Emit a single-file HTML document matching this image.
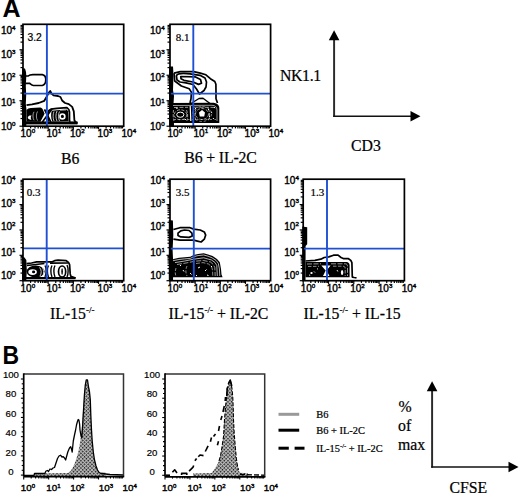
<!DOCTYPE html>
<html><head><meta charset="utf-8"><style>
html,body{margin:0;padding:0;background:#fff;}
svg{display:block;}
text{stroke:#000;stroke-width:0.22px;}
</style></head><body>
<svg width="520" height="494" viewBox="0 0 520 494">
<rect width="520" height="494" fill="#fff"/>
<path d="M22,68.3 L25,68.5 L26,72 L26.3,76 L25.8,86 L26.2,95 L25.8,104 L26.5,110 L26.3,126 L22,126 Z" fill="#000"/>
<path d="M25.5,76 L28.5,75.8 C29.5,74.6 31,74.6 33,74.6 L42.3,74.6 C44.5,75 45.8,77 45.8,79.5 C45.8,82.5 44.5,85 42.3,85.5 L33.4,85.5 C31.5,85.5 30.5,84 29.5,83.3 L25.5,83.3" fill="none" stroke="#000" stroke-width="1.7" stroke-linejoin="round"/>
<path d="M26.5,105.2 L32,104.3 L38.7,103 L44.3,100.8 L46.5,97 L48.8,92.5 L50.2,91 L51.5,93.5 L53.5,95.4 L58,96 L60.5,97 L62.1,100.5 L65,103 L68.8,104.1 L72.2,106.9 L73.8,111.4 L74.4,120.3 L75.5,122 L77.5,123.5" fill="none" stroke="#000" stroke-width="1.8" stroke-linejoin="round"/>
<path d="M26.5,110 C27.5,108.6 29,108 31,107.9 L40.2,107.6 C41.5,108 42.3,108.6 42.8,109.6 L44.6,113.8 L41.6,119.5 L40.3,121.8 L26.5,121.8 Z" fill="#000"/>
<path d="M27.8,117.6 C28,115.6 30,115.2 31.6,115.5 C30.5,117 30.5,118.5 31.5,119.7 C29.5,119.9 28,119.2 27.8,117.6 Z" fill="#fff"/>
<path d="M34,111.8 C32.6,114 32.6,118 34,120.3 M37.5,111.5 C36,114 36,118 37.5,120.6" fill="none" stroke="#fff" stroke-width="0.6"/>
<path d="M44.5,109.4 L50.8,122 M52,109 L42.4,122" fill="none" stroke="#000" stroke-width="1.7" stroke-linejoin="round"/>
<path d="M51.8,110.8 L57,110.2 L66.5,109.6 L68.2,111.2 L68.6,121 L52.3,121.6 C50.8,118 50.8,113.5 51.8,110.8 Z" fill="#000"/>
<path d="M48.6,121.5 C47.6,117 47.6,113 48.6,110.8 L50.9,109.2 L57.1,108.3 L66.9,107.7 L68.8,109.5 L69.5,112 L69.5,120.6 L70.2,121.8" fill="none" stroke="#000" stroke-width="1.7" stroke-linejoin="round"/>
<path d="M54,111.5 C52.8,114 52.8,118.5 54,121 M57,111 C55.6,114 55.6,118.5 57,121.2 M59.5,111.5 C58.2,114 58.2,118.5 59.5,121" fill="none" stroke="#fff" stroke-width="0.75"/>
<circle cx="62.4" cy="116.4" r="2.4" fill="none" stroke="#fff" stroke-width="1.7"/>
<path d="M60,110.3 L66,110" stroke="#fff" stroke-width="0.6"/>
<rect x="25" y="121.4" width="52.5" height="3" fill="#000"/>
<line x1="23" y1="93.6" x2="123.7" y2="93.6" stroke="#1f50d4" stroke-width="1.9"/>
<line x1="46.9" y1="24.3" x2="46.9" y2="126.2" stroke="#1f50d4" stroke-width="1.9"/>
<rect x="23" y="24.3" width="100.7" height="101.9" fill="none" stroke="#000" stroke-width="1.7"/>
<line x1="19.5" y1="126.20" x2="23" y2="126.20" stroke="#000" stroke-width="1.2"/>
<line x1="20.5" y1="118.53" x2="23" y2="118.53" stroke="#000" stroke-width="1.2"/>
<line x1="20.5" y1="114.05" x2="23" y2="114.05" stroke="#000" stroke-width="1.2"/>
<line x1="20.5" y1="110.86" x2="23" y2="110.86" stroke="#000" stroke-width="1.2"/>
<line x1="20.5" y1="108.39" x2="23" y2="108.39" stroke="#000" stroke-width="1.2"/>
<line x1="20.5" y1="106.38" x2="23" y2="106.38" stroke="#000" stroke-width="1.2"/>
<line x1="20.5" y1="104.67" x2="23" y2="104.67" stroke="#000" stroke-width="1.2"/>
<line x1="20.5" y1="103.19" x2="23" y2="103.19" stroke="#000" stroke-width="1.2"/>
<line x1="20.5" y1="101.89" x2="23" y2="101.89" stroke="#000" stroke-width="1.2"/>
<line x1="19.5" y1="100.72" x2="23" y2="100.72" stroke="#000" stroke-width="1.2"/>
<line x1="20.5" y1="93.06" x2="23" y2="93.06" stroke="#000" stroke-width="1.2"/>
<line x1="20.5" y1="88.57" x2="23" y2="88.57" stroke="#000" stroke-width="1.2"/>
<line x1="20.5" y1="85.39" x2="23" y2="85.39" stroke="#000" stroke-width="1.2"/>
<line x1="20.5" y1="82.92" x2="23" y2="82.92" stroke="#000" stroke-width="1.2"/>
<line x1="20.5" y1="80.90" x2="23" y2="80.90" stroke="#000" stroke-width="1.2"/>
<line x1="20.5" y1="79.20" x2="23" y2="79.20" stroke="#000" stroke-width="1.2"/>
<line x1="20.5" y1="77.72" x2="23" y2="77.72" stroke="#000" stroke-width="1.2"/>
<line x1="20.5" y1="76.42" x2="23" y2="76.42" stroke="#000" stroke-width="1.2"/>
<line x1="19.5" y1="75.25" x2="23" y2="75.25" stroke="#000" stroke-width="1.2"/>
<line x1="20.5" y1="67.58" x2="23" y2="67.58" stroke="#000" stroke-width="1.2"/>
<line x1="20.5" y1="63.10" x2="23" y2="63.10" stroke="#000" stroke-width="1.2"/>
<line x1="20.5" y1="59.91" x2="23" y2="59.91" stroke="#000" stroke-width="1.2"/>
<line x1="20.5" y1="57.44" x2="23" y2="57.44" stroke="#000" stroke-width="1.2"/>
<line x1="20.5" y1="55.43" x2="23" y2="55.43" stroke="#000" stroke-width="1.2"/>
<line x1="20.5" y1="53.72" x2="23" y2="53.72" stroke="#000" stroke-width="1.2"/>
<line x1="20.5" y1="52.24" x2="23" y2="52.24" stroke="#000" stroke-width="1.2"/>
<line x1="20.5" y1="50.94" x2="23" y2="50.94" stroke="#000" stroke-width="1.2"/>
<line x1="19.5" y1="49.77" x2="23" y2="49.77" stroke="#000" stroke-width="1.2"/>
<line x1="20.5" y1="42.11" x2="23" y2="42.11" stroke="#000" stroke-width="1.2"/>
<line x1="20.5" y1="37.62" x2="23" y2="37.62" stroke="#000" stroke-width="1.2"/>
<line x1="20.5" y1="34.44" x2="23" y2="34.44" stroke="#000" stroke-width="1.2"/>
<line x1="20.5" y1="31.97" x2="23" y2="31.97" stroke="#000" stroke-width="1.2"/>
<line x1="20.5" y1="29.95" x2="23" y2="29.95" stroke="#000" stroke-width="1.2"/>
<line x1="20.5" y1="28.25" x2="23" y2="28.25" stroke="#000" stroke-width="1.2"/>
<line x1="20.5" y1="26.77" x2="23" y2="26.77" stroke="#000" stroke-width="1.2"/>
<line x1="20.5" y1="25.47" x2="23" y2="25.47" stroke="#000" stroke-width="1.2"/>
<line x1="23.00" y1="126.2" x2="23.00" y2="129.4" stroke="#000" stroke-width="1.2"/>
<line x1="30.58" y1="126.2" x2="30.58" y2="128.4" stroke="#000" stroke-width="1.2"/>
<line x1="35.01" y1="126.2" x2="35.01" y2="128.4" stroke="#000" stroke-width="1.2"/>
<line x1="38.16" y1="126.2" x2="38.16" y2="128.4" stroke="#000" stroke-width="1.2"/>
<line x1="40.60" y1="126.2" x2="40.60" y2="128.4" stroke="#000" stroke-width="1.2"/>
<line x1="42.59" y1="126.2" x2="42.59" y2="128.4" stroke="#000" stroke-width="1.2"/>
<line x1="44.28" y1="126.2" x2="44.28" y2="128.4" stroke="#000" stroke-width="1.2"/>
<line x1="45.74" y1="126.2" x2="45.74" y2="128.4" stroke="#000" stroke-width="1.2"/>
<line x1="47.02" y1="126.2" x2="47.02" y2="128.4" stroke="#000" stroke-width="1.2"/>
<line x1="48.17" y1="126.2" x2="48.17" y2="129.4" stroke="#000" stroke-width="1.2"/>
<line x1="55.75" y1="126.2" x2="55.75" y2="128.4" stroke="#000" stroke-width="1.2"/>
<line x1="60.19" y1="126.2" x2="60.19" y2="128.4" stroke="#000" stroke-width="1.2"/>
<line x1="63.33" y1="126.2" x2="63.33" y2="128.4" stroke="#000" stroke-width="1.2"/>
<line x1="65.77" y1="126.2" x2="65.77" y2="128.4" stroke="#000" stroke-width="1.2"/>
<line x1="67.76" y1="126.2" x2="67.76" y2="128.4" stroke="#000" stroke-width="1.2"/>
<line x1="69.45" y1="126.2" x2="69.45" y2="128.4" stroke="#000" stroke-width="1.2"/>
<line x1="70.91" y1="126.2" x2="70.91" y2="128.4" stroke="#000" stroke-width="1.2"/>
<line x1="72.20" y1="126.2" x2="72.20" y2="128.4" stroke="#000" stroke-width="1.2"/>
<line x1="73.35" y1="126.2" x2="73.35" y2="129.4" stroke="#000" stroke-width="1.2"/>
<line x1="80.93" y1="126.2" x2="80.93" y2="128.4" stroke="#000" stroke-width="1.2"/>
<line x1="85.36" y1="126.2" x2="85.36" y2="128.4" stroke="#000" stroke-width="1.2"/>
<line x1="88.51" y1="126.2" x2="88.51" y2="128.4" stroke="#000" stroke-width="1.2"/>
<line x1="90.95" y1="126.2" x2="90.95" y2="128.4" stroke="#000" stroke-width="1.2"/>
<line x1="92.94" y1="126.2" x2="92.94" y2="128.4" stroke="#000" stroke-width="1.2"/>
<line x1="94.63" y1="126.2" x2="94.63" y2="128.4" stroke="#000" stroke-width="1.2"/>
<line x1="96.09" y1="126.2" x2="96.09" y2="128.4" stroke="#000" stroke-width="1.2"/>
<line x1="97.37" y1="126.2" x2="97.37" y2="128.4" stroke="#000" stroke-width="1.2"/>
<line x1="98.53" y1="126.2" x2="98.53" y2="129.4" stroke="#000" stroke-width="1.2"/>
<line x1="106.10" y1="126.2" x2="106.10" y2="128.4" stroke="#000" stroke-width="1.2"/>
<line x1="110.54" y1="126.2" x2="110.54" y2="128.4" stroke="#000" stroke-width="1.2"/>
<line x1="113.68" y1="126.2" x2="113.68" y2="128.4" stroke="#000" stroke-width="1.2"/>
<line x1="116.12" y1="126.2" x2="116.12" y2="128.4" stroke="#000" stroke-width="1.2"/>
<line x1="118.11" y1="126.2" x2="118.11" y2="128.4" stroke="#000" stroke-width="1.2"/>
<line x1="119.80" y1="126.2" x2="119.80" y2="128.4" stroke="#000" stroke-width="1.2"/>
<line x1="121.26" y1="126.2" x2="121.26" y2="128.4" stroke="#000" stroke-width="1.2"/>
<line x1="122.55" y1="126.2" x2="122.55" y2="128.4" stroke="#000" stroke-width="1.2"/>
<text x="0.9" y="33.9" font-family="Liberation Sans, sans-serif" font-size="10" text-anchor="start" style="stroke-width:0.4px">10<tspan font-size="6.20" dy="-3.80">4</tspan></text>
<text x="0.9" y="57.5" font-family="Liberation Sans, sans-serif" font-size="10" text-anchor="start" style="stroke-width:0.4px">10<tspan font-size="6.20" dy="-3.80">3</tspan></text>
<text x="0.9" y="81.0" font-family="Liberation Sans, sans-serif" font-size="10" text-anchor="start" style="stroke-width:0.4px">10<tspan font-size="6.20" dy="-3.80">2</tspan></text>
<text x="0.9" y="106.39999999999999" font-family="Liberation Sans, sans-serif" font-size="10" text-anchor="start" style="stroke-width:0.4px">10<tspan font-size="6.20" dy="-3.80">1</tspan></text>
<text x="0.9" y="129.7" font-family="Liberation Sans, sans-serif" font-size="10" text-anchor="start" style="stroke-width:0.4px">10<tspan font-size="6.20" dy="-3.80">0</tspan></text>
<text x="20.5" y="137.0" font-family="Liberation Sans, sans-serif" font-size="10" text-anchor="start" style="stroke-width:0.4px">10<tspan font-size="6.20" dy="-3.80">0</tspan></text>
<text x="46.5" y="137.0" font-family="Liberation Sans, sans-serif" font-size="10" text-anchor="start" style="stroke-width:0.4px">10<tspan font-size="6.20" dy="-3.80">1</tspan></text>
<text x="70" y="137.0" font-family="Liberation Sans, sans-serif" font-size="10" text-anchor="start" style="stroke-width:0.4px">10<tspan font-size="6.20" dy="-3.80">2</tspan></text>
<text x="97.6" y="137.0" font-family="Liberation Sans, sans-serif" font-size="10" text-anchor="start" style="stroke-width:0.4px">10<tspan font-size="6.20" dy="-3.80">3</tspan></text>
<text x="121.5" y="137.0" font-family="Liberation Sans, sans-serif" font-size="10" text-anchor="start" style="stroke-width:0.4px">10<tspan font-size="6.20" dy="-3.80">4</tspan></text>
<text x="27.5" y="40.8" font-family="Liberation Sans, sans-serif" font-size="10.3">3.2</text>
<path d="M169,66.5 L173,66.5 L173.5,75 L173,90 L174,96 L173.5,104 L174,126 L169,126 Z" fill="#000"/>
<path d="M174.1,73.1 L180.3,71.6 L193.6,71.6 L200.3,73.1 L205.9,74.8 L210.4,78.7 L214.8,81.5 L215.9,84.3 L216,92 L216,98.8 L217.5,103" fill="none" stroke="#000" stroke-width="1.7" stroke-linejoin="round"/>
<path d="M174.1,73.1 L174.7,81 L181.4,86 L189.2,88.8 L191.4,92.1 L191,98.8 L190,103" fill="none" stroke="#000" stroke-width="1.7" stroke-linejoin="round"/>
<path d="M176.4,76 C177,73.5 183,73 190,73.8 L200,75.3 L205,78 L206.5,82 L206,87 L204,90.5 L199.5,94 L196.5,89 L193,84.5 L186,82.8 L180,82 L177,80 Z" fill="none" stroke="#000" stroke-width="1.7" stroke-linejoin="round"/>
<path d="M180.8,76.5 L195,76.8 L200.5,79.5 L201.5,83.3 L198.5,84.4 L193,82 L184,80.3 L181,78.8 Z" fill="none" stroke="#000" stroke-width="1.7" stroke-linejoin="round"/>
<path d="M191,103.5 L199,98.5 L203,98.2 L210,103.5" fill="none" stroke="#000" stroke-width="1.4" stroke-linejoin="round"/>
<path d="M170,103 L212,102.8 C216,102.8 219.3,104.5 219.3,108 L219.3,123 L170,123 Z" fill="#000"/>
<ellipse cx="180.3" cy="114.7" rx="3.6" ry="2.6" fill="none" stroke="#fff" stroke-width="1"/>
<ellipse cx="180.5" cy="114.8" rx="6.3" ry="5" fill="none" stroke="#fff" stroke-width="0.6" stroke-dasharray="3 1.5"/>
<ellipse cx="202" cy="114" rx="6.5" ry="5.5" fill="none" stroke="#fff" stroke-width="0.6" stroke-dasharray="3 1.5"/>
<ellipse cx="202" cy="114" rx="9.5" ry="7.5" fill="none" stroke="#fff" stroke-width="0.5" stroke-dasharray="2.5 2"/>
<path d="M174,119.5 L216,119.5" stroke="#fff" stroke-width="0.5" stroke-dasharray="2 2.5"/>
<path d="M174,107.5 L188,107.3 M194,107.2 L214,107.4" stroke="#fff" stroke-width="0.6" stroke-dasharray="4 1.5"/>
<path d="M173.5,110 C173,113 173,118 174,121 M186.5,110 C188,113 188,118 186.8,121 M196,109 C194.5,112 194.5,117 196,120.5 M208.5,109 C210,112 210,117 208.5,120.5" fill="none" stroke="#fff" stroke-width="0.6" stroke-dasharray="3 1.2"/>
<path d="M199,112.5 L202,110 L205,112.5 L204.2,116.6 L199.8,116.6 Z" fill="#fff"/>
<path d="M190.2,106 L190.8,121" stroke="#fff" stroke-width="1.2"/>
<path d="M208,109 l1,1 M211,112 l1.2,0.8 M209,116 l1,1 M213,118 l0.8,1 M176,108 l1.5,0.5 M185,119 l1,1 M195,108 l1,1 M214,107 l1,1.2" stroke="#fff" stroke-width="1"/>
<path d="M173,105.5 L212,105.3 C215,105.3 217,107 217,110 L217,121" fill="none" stroke="#fff" stroke-width="0.6"/>
<line x1="170" y1="93.6" x2="270.6" y2="93.6" stroke="#1f50d4" stroke-width="1.9"/>
<line x1="193.3" y1="24.3" x2="193.3" y2="126.2" stroke="#1f50d4" stroke-width="1.9"/>
<rect x="170" y="24.3" width="100.60000000000002" height="101.9" fill="none" stroke="#000" stroke-width="1.7"/>
<line x1="166.5" y1="126.20" x2="170" y2="126.20" stroke="#000" stroke-width="1.2"/>
<line x1="167.5" y1="118.53" x2="170" y2="118.53" stroke="#000" stroke-width="1.2"/>
<line x1="167.5" y1="114.05" x2="170" y2="114.05" stroke="#000" stroke-width="1.2"/>
<line x1="167.5" y1="110.86" x2="170" y2="110.86" stroke="#000" stroke-width="1.2"/>
<line x1="167.5" y1="108.39" x2="170" y2="108.39" stroke="#000" stroke-width="1.2"/>
<line x1="167.5" y1="106.38" x2="170" y2="106.38" stroke="#000" stroke-width="1.2"/>
<line x1="167.5" y1="104.67" x2="170" y2="104.67" stroke="#000" stroke-width="1.2"/>
<line x1="167.5" y1="103.19" x2="170" y2="103.19" stroke="#000" stroke-width="1.2"/>
<line x1="167.5" y1="101.89" x2="170" y2="101.89" stroke="#000" stroke-width="1.2"/>
<line x1="166.5" y1="100.72" x2="170" y2="100.72" stroke="#000" stroke-width="1.2"/>
<line x1="167.5" y1="93.06" x2="170" y2="93.06" stroke="#000" stroke-width="1.2"/>
<line x1="167.5" y1="88.57" x2="170" y2="88.57" stroke="#000" stroke-width="1.2"/>
<line x1="167.5" y1="85.39" x2="170" y2="85.39" stroke="#000" stroke-width="1.2"/>
<line x1="167.5" y1="82.92" x2="170" y2="82.92" stroke="#000" stroke-width="1.2"/>
<line x1="167.5" y1="80.90" x2="170" y2="80.90" stroke="#000" stroke-width="1.2"/>
<line x1="167.5" y1="79.20" x2="170" y2="79.20" stroke="#000" stroke-width="1.2"/>
<line x1="167.5" y1="77.72" x2="170" y2="77.72" stroke="#000" stroke-width="1.2"/>
<line x1="167.5" y1="76.42" x2="170" y2="76.42" stroke="#000" stroke-width="1.2"/>
<line x1="166.5" y1="75.25" x2="170" y2="75.25" stroke="#000" stroke-width="1.2"/>
<line x1="167.5" y1="67.58" x2="170" y2="67.58" stroke="#000" stroke-width="1.2"/>
<line x1="167.5" y1="63.10" x2="170" y2="63.10" stroke="#000" stroke-width="1.2"/>
<line x1="167.5" y1="59.91" x2="170" y2="59.91" stroke="#000" stroke-width="1.2"/>
<line x1="167.5" y1="57.44" x2="170" y2="57.44" stroke="#000" stroke-width="1.2"/>
<line x1="167.5" y1="55.43" x2="170" y2="55.43" stroke="#000" stroke-width="1.2"/>
<line x1="167.5" y1="53.72" x2="170" y2="53.72" stroke="#000" stroke-width="1.2"/>
<line x1="167.5" y1="52.24" x2="170" y2="52.24" stroke="#000" stroke-width="1.2"/>
<line x1="167.5" y1="50.94" x2="170" y2="50.94" stroke="#000" stroke-width="1.2"/>
<line x1="166.5" y1="49.77" x2="170" y2="49.77" stroke="#000" stroke-width="1.2"/>
<line x1="167.5" y1="42.11" x2="170" y2="42.11" stroke="#000" stroke-width="1.2"/>
<line x1="167.5" y1="37.62" x2="170" y2="37.62" stroke="#000" stroke-width="1.2"/>
<line x1="167.5" y1="34.44" x2="170" y2="34.44" stroke="#000" stroke-width="1.2"/>
<line x1="167.5" y1="31.97" x2="170" y2="31.97" stroke="#000" stroke-width="1.2"/>
<line x1="167.5" y1="29.95" x2="170" y2="29.95" stroke="#000" stroke-width="1.2"/>
<line x1="167.5" y1="28.25" x2="170" y2="28.25" stroke="#000" stroke-width="1.2"/>
<line x1="167.5" y1="26.77" x2="170" y2="26.77" stroke="#000" stroke-width="1.2"/>
<line x1="167.5" y1="25.47" x2="170" y2="25.47" stroke="#000" stroke-width="1.2"/>
<line x1="170.00" y1="126.2" x2="170.00" y2="129.4" stroke="#000" stroke-width="1.2"/>
<line x1="177.57" y1="126.2" x2="177.57" y2="128.4" stroke="#000" stroke-width="1.2"/>
<line x1="182.00" y1="126.2" x2="182.00" y2="128.4" stroke="#000" stroke-width="1.2"/>
<line x1="185.14" y1="126.2" x2="185.14" y2="128.4" stroke="#000" stroke-width="1.2"/>
<line x1="187.58" y1="126.2" x2="187.58" y2="128.4" stroke="#000" stroke-width="1.2"/>
<line x1="189.57" y1="126.2" x2="189.57" y2="128.4" stroke="#000" stroke-width="1.2"/>
<line x1="191.25" y1="126.2" x2="191.25" y2="128.4" stroke="#000" stroke-width="1.2"/>
<line x1="192.71" y1="126.2" x2="192.71" y2="128.4" stroke="#000" stroke-width="1.2"/>
<line x1="194.00" y1="126.2" x2="194.00" y2="128.4" stroke="#000" stroke-width="1.2"/>
<line x1="195.15" y1="126.2" x2="195.15" y2="129.4" stroke="#000" stroke-width="1.2"/>
<line x1="202.72" y1="126.2" x2="202.72" y2="128.4" stroke="#000" stroke-width="1.2"/>
<line x1="207.15" y1="126.2" x2="207.15" y2="128.4" stroke="#000" stroke-width="1.2"/>
<line x1="210.29" y1="126.2" x2="210.29" y2="128.4" stroke="#000" stroke-width="1.2"/>
<line x1="212.73" y1="126.2" x2="212.73" y2="128.4" stroke="#000" stroke-width="1.2"/>
<line x1="214.72" y1="126.2" x2="214.72" y2="128.4" stroke="#000" stroke-width="1.2"/>
<line x1="216.40" y1="126.2" x2="216.40" y2="128.4" stroke="#000" stroke-width="1.2"/>
<line x1="217.86" y1="126.2" x2="217.86" y2="128.4" stroke="#000" stroke-width="1.2"/>
<line x1="219.15" y1="126.2" x2="219.15" y2="128.4" stroke="#000" stroke-width="1.2"/>
<line x1="220.30" y1="126.2" x2="220.30" y2="129.4" stroke="#000" stroke-width="1.2"/>
<line x1="227.87" y1="126.2" x2="227.87" y2="128.4" stroke="#000" stroke-width="1.2"/>
<line x1="232.30" y1="126.2" x2="232.30" y2="128.4" stroke="#000" stroke-width="1.2"/>
<line x1="235.44" y1="126.2" x2="235.44" y2="128.4" stroke="#000" stroke-width="1.2"/>
<line x1="237.88" y1="126.2" x2="237.88" y2="128.4" stroke="#000" stroke-width="1.2"/>
<line x1="239.87" y1="126.2" x2="239.87" y2="128.4" stroke="#000" stroke-width="1.2"/>
<line x1="241.55" y1="126.2" x2="241.55" y2="128.4" stroke="#000" stroke-width="1.2"/>
<line x1="243.01" y1="126.2" x2="243.01" y2="128.4" stroke="#000" stroke-width="1.2"/>
<line x1="244.30" y1="126.2" x2="244.30" y2="128.4" stroke="#000" stroke-width="1.2"/>
<line x1="245.45" y1="126.2" x2="245.45" y2="129.4" stroke="#000" stroke-width="1.2"/>
<line x1="253.02" y1="126.2" x2="253.02" y2="128.4" stroke="#000" stroke-width="1.2"/>
<line x1="257.45" y1="126.2" x2="257.45" y2="128.4" stroke="#000" stroke-width="1.2"/>
<line x1="260.59" y1="126.2" x2="260.59" y2="128.4" stroke="#000" stroke-width="1.2"/>
<line x1="263.03" y1="126.2" x2="263.03" y2="128.4" stroke="#000" stroke-width="1.2"/>
<line x1="265.02" y1="126.2" x2="265.02" y2="128.4" stroke="#000" stroke-width="1.2"/>
<line x1="266.70" y1="126.2" x2="266.70" y2="128.4" stroke="#000" stroke-width="1.2"/>
<line x1="268.16" y1="126.2" x2="268.16" y2="128.4" stroke="#000" stroke-width="1.2"/>
<line x1="269.45" y1="126.2" x2="269.45" y2="128.4" stroke="#000" stroke-width="1.2"/>
<text x="150" y="33.9" font-family="Liberation Sans, sans-serif" font-size="10" text-anchor="start" style="stroke-width:0.4px">10<tspan font-size="6.20" dy="-3.80">4</tspan></text>
<text x="150" y="57.5" font-family="Liberation Sans, sans-serif" font-size="10" text-anchor="start" style="stroke-width:0.4px">10<tspan font-size="6.20" dy="-3.80">3</tspan></text>
<text x="150" y="81.0" font-family="Liberation Sans, sans-serif" font-size="10" text-anchor="start" style="stroke-width:0.4px">10<tspan font-size="6.20" dy="-3.80">2</tspan></text>
<text x="150" y="106.39999999999999" font-family="Liberation Sans, sans-serif" font-size="10" text-anchor="start" style="stroke-width:0.4px">10<tspan font-size="6.20" dy="-3.80">1</tspan></text>
<text x="150" y="129.7" font-family="Liberation Sans, sans-serif" font-size="10" text-anchor="start" style="stroke-width:0.4px">10<tspan font-size="6.20" dy="-3.80">0</tspan></text>
<text x="167.5" y="137.0" font-family="Liberation Sans, sans-serif" font-size="10" text-anchor="start" style="stroke-width:0.4px">10<tspan font-size="6.20" dy="-3.80">0</tspan></text>
<text x="193.5" y="137.0" font-family="Liberation Sans, sans-serif" font-size="10" text-anchor="start" style="stroke-width:0.4px">10<tspan font-size="6.20" dy="-3.80">1</tspan></text>
<text x="217" y="137.0" font-family="Liberation Sans, sans-serif" font-size="10" text-anchor="start" style="stroke-width:0.4px">10<tspan font-size="6.20" dy="-3.80">2</tspan></text>
<text x="244.6" y="137.0" font-family="Liberation Sans, sans-serif" font-size="10" text-anchor="start" style="stroke-width:0.4px">10<tspan font-size="6.20" dy="-3.80">3</tspan></text>
<text x="268.5" y="137.0" font-family="Liberation Sans, sans-serif" font-size="10" text-anchor="start" style="stroke-width:0.4px">10<tspan font-size="6.20" dy="-3.80">4</tspan></text>
<text x="175.8" y="40.8" font-family="Liberation Serif, serif" font-size="11">8.1</text>
<path d="M22,256.5 L24.5,257.5 L26.3,260 L26.8,270 L26.3,280.7 L22,280.7 Z" fill="#000"/>
<path d="M26.5,263.6 L31.5,263 L36.7,261.8 L52.3,261.8 L54.6,260.7 L58,260.1 L66.2,260.7 L68.5,262.4 L69.6,264.7 L70.2,273.9 L70.8,276.2 L75.6,278" fill="none" stroke="#000" stroke-width="1.7" stroke-linejoin="round"/>
<path d="M27,265.5 L44.5,263.5 M50,263.2 L68,263" fill="none" stroke="#000" stroke-width="1.7" stroke-linejoin="round"/>
<ellipse cx="35.6" cy="271.6" rx="9" ry="6" fill="#000"/>
<ellipse cx="32.6" cy="272.1" rx="4.3" ry="2.8" fill="#fff"/>
<ellipse cx="33.6" cy="271.9" rx="1.6" ry="1.4" fill="#000"/>
<path d="M39.5,267.5 C41.5,269 41.8,274 40,276 M42,267 C44,269 44.2,274 42.5,276.5" fill="none" stroke="#fff" stroke-width="0.8"/>
<ellipse cx="62.1" cy="271.6" rx="3.6" ry="5.6" fill="none" stroke="#000" stroke-width="1.7" stroke-linejoin="round"/>
<ellipse cx="62.1" cy="271.6" rx="0.8" ry="3.3" fill="#000"/>
<path d="M52,265.5 C50.5,268 50.5,274 52,277 M55,265.5 C53.5,268 53.5,274 55,277 M67,265 C68.5,268 68.5,274 67,277" fill="none" stroke="#000" stroke-width="1.4" stroke-linejoin="round"/>
<path d="M45,265.5 C46.5,268 46.5,274 45,277 M48.5,265.5 C47,268 47,274 48.5,277" fill="none" stroke="#000" stroke-width="1.4" stroke-linejoin="round"/>
<rect x="24" y="277" width="51.5" height="2.2" fill="#000"/>
<line x1="23" y1="248.4" x2="123.7" y2="248.4" stroke="#1f50d4" stroke-width="1.9"/>
<line x1="46.7" y1="179.2" x2="46.7" y2="280.7" stroke="#1f50d4" stroke-width="1.9"/>
<rect x="23" y="179.2" width="100.7" height="101.5" fill="none" stroke="#000" stroke-width="1.7"/>
<line x1="19.5" y1="280.70" x2="23" y2="280.70" stroke="#000" stroke-width="1.2"/>
<line x1="20.5" y1="273.06" x2="23" y2="273.06" stroke="#000" stroke-width="1.2"/>
<line x1="20.5" y1="268.59" x2="23" y2="268.59" stroke="#000" stroke-width="1.2"/>
<line x1="20.5" y1="265.42" x2="23" y2="265.42" stroke="#000" stroke-width="1.2"/>
<line x1="20.5" y1="262.96" x2="23" y2="262.96" stroke="#000" stroke-width="1.2"/>
<line x1="20.5" y1="260.95" x2="23" y2="260.95" stroke="#000" stroke-width="1.2"/>
<line x1="20.5" y1="259.26" x2="23" y2="259.26" stroke="#000" stroke-width="1.2"/>
<line x1="20.5" y1="257.78" x2="23" y2="257.78" stroke="#000" stroke-width="1.2"/>
<line x1="20.5" y1="256.49" x2="23" y2="256.49" stroke="#000" stroke-width="1.2"/>
<line x1="19.5" y1="255.32" x2="23" y2="255.32" stroke="#000" stroke-width="1.2"/>
<line x1="20.5" y1="247.69" x2="23" y2="247.69" stroke="#000" stroke-width="1.2"/>
<line x1="20.5" y1="243.22" x2="23" y2="243.22" stroke="#000" stroke-width="1.2"/>
<line x1="20.5" y1="240.05" x2="23" y2="240.05" stroke="#000" stroke-width="1.2"/>
<line x1="20.5" y1="237.59" x2="23" y2="237.59" stroke="#000" stroke-width="1.2"/>
<line x1="20.5" y1="235.58" x2="23" y2="235.58" stroke="#000" stroke-width="1.2"/>
<line x1="20.5" y1="233.88" x2="23" y2="233.88" stroke="#000" stroke-width="1.2"/>
<line x1="20.5" y1="232.41" x2="23" y2="232.41" stroke="#000" stroke-width="1.2"/>
<line x1="20.5" y1="231.11" x2="23" y2="231.11" stroke="#000" stroke-width="1.2"/>
<line x1="19.5" y1="229.95" x2="23" y2="229.95" stroke="#000" stroke-width="1.2"/>
<line x1="20.5" y1="222.31" x2="23" y2="222.31" stroke="#000" stroke-width="1.2"/>
<line x1="20.5" y1="217.84" x2="23" y2="217.84" stroke="#000" stroke-width="1.2"/>
<line x1="20.5" y1="214.67" x2="23" y2="214.67" stroke="#000" stroke-width="1.2"/>
<line x1="20.5" y1="212.21" x2="23" y2="212.21" stroke="#000" stroke-width="1.2"/>
<line x1="20.5" y1="210.20" x2="23" y2="210.20" stroke="#000" stroke-width="1.2"/>
<line x1="20.5" y1="208.51" x2="23" y2="208.51" stroke="#000" stroke-width="1.2"/>
<line x1="20.5" y1="207.03" x2="23" y2="207.03" stroke="#000" stroke-width="1.2"/>
<line x1="20.5" y1="205.74" x2="23" y2="205.74" stroke="#000" stroke-width="1.2"/>
<line x1="19.5" y1="204.57" x2="23" y2="204.57" stroke="#000" stroke-width="1.2"/>
<line x1="20.5" y1="196.94" x2="23" y2="196.94" stroke="#000" stroke-width="1.2"/>
<line x1="20.5" y1="192.47" x2="23" y2="192.47" stroke="#000" stroke-width="1.2"/>
<line x1="20.5" y1="189.30" x2="23" y2="189.30" stroke="#000" stroke-width="1.2"/>
<line x1="20.5" y1="186.84" x2="23" y2="186.84" stroke="#000" stroke-width="1.2"/>
<line x1="20.5" y1="184.83" x2="23" y2="184.83" stroke="#000" stroke-width="1.2"/>
<line x1="20.5" y1="183.13" x2="23" y2="183.13" stroke="#000" stroke-width="1.2"/>
<line x1="20.5" y1="181.66" x2="23" y2="181.66" stroke="#000" stroke-width="1.2"/>
<line x1="20.5" y1="180.36" x2="23" y2="180.36" stroke="#000" stroke-width="1.2"/>
<line x1="23.00" y1="280.7" x2="23.00" y2="283.9" stroke="#000" stroke-width="1.2"/>
<line x1="30.58" y1="280.7" x2="30.58" y2="282.9" stroke="#000" stroke-width="1.2"/>
<line x1="35.01" y1="280.7" x2="35.01" y2="282.9" stroke="#000" stroke-width="1.2"/>
<line x1="38.16" y1="280.7" x2="38.16" y2="282.9" stroke="#000" stroke-width="1.2"/>
<line x1="40.60" y1="280.7" x2="40.60" y2="282.9" stroke="#000" stroke-width="1.2"/>
<line x1="42.59" y1="280.7" x2="42.59" y2="282.9" stroke="#000" stroke-width="1.2"/>
<line x1="44.28" y1="280.7" x2="44.28" y2="282.9" stroke="#000" stroke-width="1.2"/>
<line x1="45.74" y1="280.7" x2="45.74" y2="282.9" stroke="#000" stroke-width="1.2"/>
<line x1="47.02" y1="280.7" x2="47.02" y2="282.9" stroke="#000" stroke-width="1.2"/>
<line x1="48.17" y1="280.7" x2="48.17" y2="283.9" stroke="#000" stroke-width="1.2"/>
<line x1="55.75" y1="280.7" x2="55.75" y2="282.9" stroke="#000" stroke-width="1.2"/>
<line x1="60.19" y1="280.7" x2="60.19" y2="282.9" stroke="#000" stroke-width="1.2"/>
<line x1="63.33" y1="280.7" x2="63.33" y2="282.9" stroke="#000" stroke-width="1.2"/>
<line x1="65.77" y1="280.7" x2="65.77" y2="282.9" stroke="#000" stroke-width="1.2"/>
<line x1="67.76" y1="280.7" x2="67.76" y2="282.9" stroke="#000" stroke-width="1.2"/>
<line x1="69.45" y1="280.7" x2="69.45" y2="282.9" stroke="#000" stroke-width="1.2"/>
<line x1="70.91" y1="280.7" x2="70.91" y2="282.9" stroke="#000" stroke-width="1.2"/>
<line x1="72.20" y1="280.7" x2="72.20" y2="282.9" stroke="#000" stroke-width="1.2"/>
<line x1="73.35" y1="280.7" x2="73.35" y2="283.9" stroke="#000" stroke-width="1.2"/>
<line x1="80.93" y1="280.7" x2="80.93" y2="282.9" stroke="#000" stroke-width="1.2"/>
<line x1="85.36" y1="280.7" x2="85.36" y2="282.9" stroke="#000" stroke-width="1.2"/>
<line x1="88.51" y1="280.7" x2="88.51" y2="282.9" stroke="#000" stroke-width="1.2"/>
<line x1="90.95" y1="280.7" x2="90.95" y2="282.9" stroke="#000" stroke-width="1.2"/>
<line x1="92.94" y1="280.7" x2="92.94" y2="282.9" stroke="#000" stroke-width="1.2"/>
<line x1="94.63" y1="280.7" x2="94.63" y2="282.9" stroke="#000" stroke-width="1.2"/>
<line x1="96.09" y1="280.7" x2="96.09" y2="282.9" stroke="#000" stroke-width="1.2"/>
<line x1="97.37" y1="280.7" x2="97.37" y2="282.9" stroke="#000" stroke-width="1.2"/>
<line x1="98.53" y1="280.7" x2="98.53" y2="283.9" stroke="#000" stroke-width="1.2"/>
<line x1="106.10" y1="280.7" x2="106.10" y2="282.9" stroke="#000" stroke-width="1.2"/>
<line x1="110.54" y1="280.7" x2="110.54" y2="282.9" stroke="#000" stroke-width="1.2"/>
<line x1="113.68" y1="280.7" x2="113.68" y2="282.9" stroke="#000" stroke-width="1.2"/>
<line x1="116.12" y1="280.7" x2="116.12" y2="282.9" stroke="#000" stroke-width="1.2"/>
<line x1="118.11" y1="280.7" x2="118.11" y2="282.9" stroke="#000" stroke-width="1.2"/>
<line x1="119.80" y1="280.7" x2="119.80" y2="282.9" stroke="#000" stroke-width="1.2"/>
<line x1="121.26" y1="280.7" x2="121.26" y2="282.9" stroke="#000" stroke-width="1.2"/>
<line x1="122.55" y1="280.7" x2="122.55" y2="282.9" stroke="#000" stroke-width="1.2"/>
<text x="0.9" y="183.6" font-family="Liberation Sans, sans-serif" font-size="10" text-anchor="start" style="stroke-width:0.4px">10<tspan font-size="6.20" dy="-3.80">4</tspan></text>
<text x="0.9" y="207.1" font-family="Liberation Sans, sans-serif" font-size="10" text-anchor="start" style="stroke-width:0.4px">10<tspan font-size="6.20" dy="-3.80">3</tspan></text>
<text x="0.9" y="230.1" font-family="Liberation Sans, sans-serif" font-size="10" text-anchor="start" style="stroke-width:0.4px">10<tspan font-size="6.20" dy="-3.80">2</tspan></text>
<text x="0.9" y="255.6" font-family="Liberation Sans, sans-serif" font-size="10" text-anchor="start" style="stroke-width:0.4px">10<tspan font-size="6.20" dy="-3.80">1</tspan></text>
<text x="0.9" y="279.1" font-family="Liberation Sans, sans-serif" font-size="10" text-anchor="start" style="stroke-width:0.4px">10<tspan font-size="6.20" dy="-3.80">0</tspan></text>
<text x="20.5" y="291.5" font-family="Liberation Sans, sans-serif" font-size="10" text-anchor="start" style="stroke-width:0.4px">10<tspan font-size="6.20" dy="-3.80">0</tspan></text>
<text x="46.5" y="291.5" font-family="Liberation Sans, sans-serif" font-size="10" text-anchor="start" style="stroke-width:0.4px">10<tspan font-size="6.20" dy="-3.80">1</tspan></text>
<text x="70" y="291.5" font-family="Liberation Sans, sans-serif" font-size="10" text-anchor="start" style="stroke-width:0.4px">10<tspan font-size="6.20" dy="-3.80">2</tspan></text>
<text x="97.6" y="291.5" font-family="Liberation Sans, sans-serif" font-size="10" text-anchor="start" style="stroke-width:0.4px">10<tspan font-size="6.20" dy="-3.80">3</tspan></text>
<text x="121.5" y="291.5" font-family="Liberation Sans, sans-serif" font-size="10" text-anchor="start" style="stroke-width:0.4px">10<tspan font-size="6.20" dy="-3.80">4</tspan></text>
<text x="26.8" y="196" font-family="Liberation Serif, serif" font-size="11">0.3</text>
<path d="M168.8,220 L172.9,220.5 L173.3,235 L172.6,250 L173.3,265 L173,281 L168.8,281 Z" fill="#000"/>
<path d="M173.4,229.5 L179.9,227.7 L190,227.7 L193.7,229.1 L200.2,230 L204.3,231.9 L205.7,235.1 L204.3,239.2 L201.1,242 L197.4,241.1 L193.7,240.2 L179.9,240.2 L173.4,239.2" fill="none" stroke="#000" stroke-width="1.7" stroke-linejoin="round"/>
<path d="M178,233.2 L180.8,230.9 L184.5,230 L189.1,230.5 L191.9,233.2 L192.3,236 L189.1,237.4 L180.8,236.9 L178,235.5 Z" fill="none" stroke="#000" stroke-width="1.7" stroke-linejoin="round"/>
<path d="M172,260 L173.6,258.9 L179.1,257.8 L184.7,257.2 L190.3,256.7 L193.6,255 L198.1,253.9 L203.7,253.3 L208.1,254.5 L212.6,256.1 L217,258.9 L219.8,262.3 L221,269 L221.5,274.5 L222.6,277.3 L172,277.3 Z" fill="#000"/>
<path d="M173,260.7 L179,259.5 L184.7,258.9 L190.3,258.4 L193.6,256.7 L198.1,255.6 L203.7,255 L208,256.2 L212,257.8 L216,260.4 L218.3,263.4 L219.4,269 L219.8,276" fill="none" stroke="#fff" stroke-width="0.7"/>
<path d="M175,262.6 L184.7,261 L193.6,259.2 L203.7,257.8 L211.5,260 L215,262.5 L216.8,265.5 L217.3,276" fill="none" stroke="#fff" stroke-width="0.7"/>
<path d="M198,268 l2,-1 M205,271 l1.5,-1.5 M183,270 l1,1.5 M190,273 l1.5,1.5 M207,275 l1.5,0.5 M180,265 l1,1 M196,275 l1,1 M211,266 l1,1" stroke="#fff" stroke-width="1"/>
<path d="M177,264.5 L186,263 L195,261.2 L203.5,260.5 L210.5,262 L213.3,264.5 L214.8,267.5 L215.2,276" fill="none" stroke="#fff" stroke-width="0.6" stroke-dasharray="5 1.5"/>
<path d="M196,263.5 L203,262.6 L208.5,264 L211.5,266.5 L212.5,270 L212.8,276" fill="none" stroke="#fff" stroke-width="0.55" stroke-dasharray="4 1.5"/>
<path d="M176,268 C175,271 175,274 176,276 M187,266 C185.5,269 185.5,273 187,276" fill="none" stroke="#fff" stroke-width="0.55" stroke-dasharray="3 1.5"/>
<line x1="170" y1="248.6" x2="270.6" y2="248.6" stroke="#1f50d4" stroke-width="1.9"/>
<line x1="193.8" y1="179.2" x2="193.8" y2="280.7" stroke="#1f50d4" stroke-width="1.9"/>
<rect x="170" y="179.2" width="100.60000000000002" height="101.5" fill="none" stroke="#000" stroke-width="1.7"/>
<line x1="166.5" y1="280.70" x2="170" y2="280.70" stroke="#000" stroke-width="1.2"/>
<line x1="167.5" y1="273.06" x2="170" y2="273.06" stroke="#000" stroke-width="1.2"/>
<line x1="167.5" y1="268.59" x2="170" y2="268.59" stroke="#000" stroke-width="1.2"/>
<line x1="167.5" y1="265.42" x2="170" y2="265.42" stroke="#000" stroke-width="1.2"/>
<line x1="167.5" y1="262.96" x2="170" y2="262.96" stroke="#000" stroke-width="1.2"/>
<line x1="167.5" y1="260.95" x2="170" y2="260.95" stroke="#000" stroke-width="1.2"/>
<line x1="167.5" y1="259.26" x2="170" y2="259.26" stroke="#000" stroke-width="1.2"/>
<line x1="167.5" y1="257.78" x2="170" y2="257.78" stroke="#000" stroke-width="1.2"/>
<line x1="167.5" y1="256.49" x2="170" y2="256.49" stroke="#000" stroke-width="1.2"/>
<line x1="166.5" y1="255.32" x2="170" y2="255.32" stroke="#000" stroke-width="1.2"/>
<line x1="167.5" y1="247.69" x2="170" y2="247.69" stroke="#000" stroke-width="1.2"/>
<line x1="167.5" y1="243.22" x2="170" y2="243.22" stroke="#000" stroke-width="1.2"/>
<line x1="167.5" y1="240.05" x2="170" y2="240.05" stroke="#000" stroke-width="1.2"/>
<line x1="167.5" y1="237.59" x2="170" y2="237.59" stroke="#000" stroke-width="1.2"/>
<line x1="167.5" y1="235.58" x2="170" y2="235.58" stroke="#000" stroke-width="1.2"/>
<line x1="167.5" y1="233.88" x2="170" y2="233.88" stroke="#000" stroke-width="1.2"/>
<line x1="167.5" y1="232.41" x2="170" y2="232.41" stroke="#000" stroke-width="1.2"/>
<line x1="167.5" y1="231.11" x2="170" y2="231.11" stroke="#000" stroke-width="1.2"/>
<line x1="166.5" y1="229.95" x2="170" y2="229.95" stroke="#000" stroke-width="1.2"/>
<line x1="167.5" y1="222.31" x2="170" y2="222.31" stroke="#000" stroke-width="1.2"/>
<line x1="167.5" y1="217.84" x2="170" y2="217.84" stroke="#000" stroke-width="1.2"/>
<line x1="167.5" y1="214.67" x2="170" y2="214.67" stroke="#000" stroke-width="1.2"/>
<line x1="167.5" y1="212.21" x2="170" y2="212.21" stroke="#000" stroke-width="1.2"/>
<line x1="167.5" y1="210.20" x2="170" y2="210.20" stroke="#000" stroke-width="1.2"/>
<line x1="167.5" y1="208.51" x2="170" y2="208.51" stroke="#000" stroke-width="1.2"/>
<line x1="167.5" y1="207.03" x2="170" y2="207.03" stroke="#000" stroke-width="1.2"/>
<line x1="167.5" y1="205.74" x2="170" y2="205.74" stroke="#000" stroke-width="1.2"/>
<line x1="166.5" y1="204.57" x2="170" y2="204.57" stroke="#000" stroke-width="1.2"/>
<line x1="167.5" y1="196.94" x2="170" y2="196.94" stroke="#000" stroke-width="1.2"/>
<line x1="167.5" y1="192.47" x2="170" y2="192.47" stroke="#000" stroke-width="1.2"/>
<line x1="167.5" y1="189.30" x2="170" y2="189.30" stroke="#000" stroke-width="1.2"/>
<line x1="167.5" y1="186.84" x2="170" y2="186.84" stroke="#000" stroke-width="1.2"/>
<line x1="167.5" y1="184.83" x2="170" y2="184.83" stroke="#000" stroke-width="1.2"/>
<line x1="167.5" y1="183.13" x2="170" y2="183.13" stroke="#000" stroke-width="1.2"/>
<line x1="167.5" y1="181.66" x2="170" y2="181.66" stroke="#000" stroke-width="1.2"/>
<line x1="167.5" y1="180.36" x2="170" y2="180.36" stroke="#000" stroke-width="1.2"/>
<line x1="170.00" y1="280.7" x2="170.00" y2="283.9" stroke="#000" stroke-width="1.2"/>
<line x1="177.57" y1="280.7" x2="177.57" y2="282.9" stroke="#000" stroke-width="1.2"/>
<line x1="182.00" y1="280.7" x2="182.00" y2="282.9" stroke="#000" stroke-width="1.2"/>
<line x1="185.14" y1="280.7" x2="185.14" y2="282.9" stroke="#000" stroke-width="1.2"/>
<line x1="187.58" y1="280.7" x2="187.58" y2="282.9" stroke="#000" stroke-width="1.2"/>
<line x1="189.57" y1="280.7" x2="189.57" y2="282.9" stroke="#000" stroke-width="1.2"/>
<line x1="191.25" y1="280.7" x2="191.25" y2="282.9" stroke="#000" stroke-width="1.2"/>
<line x1="192.71" y1="280.7" x2="192.71" y2="282.9" stroke="#000" stroke-width="1.2"/>
<line x1="194.00" y1="280.7" x2="194.00" y2="282.9" stroke="#000" stroke-width="1.2"/>
<line x1="195.15" y1="280.7" x2="195.15" y2="283.9" stroke="#000" stroke-width="1.2"/>
<line x1="202.72" y1="280.7" x2="202.72" y2="282.9" stroke="#000" stroke-width="1.2"/>
<line x1="207.15" y1="280.7" x2="207.15" y2="282.9" stroke="#000" stroke-width="1.2"/>
<line x1="210.29" y1="280.7" x2="210.29" y2="282.9" stroke="#000" stroke-width="1.2"/>
<line x1="212.73" y1="280.7" x2="212.73" y2="282.9" stroke="#000" stroke-width="1.2"/>
<line x1="214.72" y1="280.7" x2="214.72" y2="282.9" stroke="#000" stroke-width="1.2"/>
<line x1="216.40" y1="280.7" x2="216.40" y2="282.9" stroke="#000" stroke-width="1.2"/>
<line x1="217.86" y1="280.7" x2="217.86" y2="282.9" stroke="#000" stroke-width="1.2"/>
<line x1="219.15" y1="280.7" x2="219.15" y2="282.9" stroke="#000" stroke-width="1.2"/>
<line x1="220.30" y1="280.7" x2="220.30" y2="283.9" stroke="#000" stroke-width="1.2"/>
<line x1="227.87" y1="280.7" x2="227.87" y2="282.9" stroke="#000" stroke-width="1.2"/>
<line x1="232.30" y1="280.7" x2="232.30" y2="282.9" stroke="#000" stroke-width="1.2"/>
<line x1="235.44" y1="280.7" x2="235.44" y2="282.9" stroke="#000" stroke-width="1.2"/>
<line x1="237.88" y1="280.7" x2="237.88" y2="282.9" stroke="#000" stroke-width="1.2"/>
<line x1="239.87" y1="280.7" x2="239.87" y2="282.9" stroke="#000" stroke-width="1.2"/>
<line x1="241.55" y1="280.7" x2="241.55" y2="282.9" stroke="#000" stroke-width="1.2"/>
<line x1="243.01" y1="280.7" x2="243.01" y2="282.9" stroke="#000" stroke-width="1.2"/>
<line x1="244.30" y1="280.7" x2="244.30" y2="282.9" stroke="#000" stroke-width="1.2"/>
<line x1="245.45" y1="280.7" x2="245.45" y2="283.9" stroke="#000" stroke-width="1.2"/>
<line x1="253.02" y1="280.7" x2="253.02" y2="282.9" stroke="#000" stroke-width="1.2"/>
<line x1="257.45" y1="280.7" x2="257.45" y2="282.9" stroke="#000" stroke-width="1.2"/>
<line x1="260.59" y1="280.7" x2="260.59" y2="282.9" stroke="#000" stroke-width="1.2"/>
<line x1="263.03" y1="280.7" x2="263.03" y2="282.9" stroke="#000" stroke-width="1.2"/>
<line x1="265.02" y1="280.7" x2="265.02" y2="282.9" stroke="#000" stroke-width="1.2"/>
<line x1="266.70" y1="280.7" x2="266.70" y2="282.9" stroke="#000" stroke-width="1.2"/>
<line x1="268.16" y1="280.7" x2="268.16" y2="282.9" stroke="#000" stroke-width="1.2"/>
<line x1="269.45" y1="280.7" x2="269.45" y2="282.9" stroke="#000" stroke-width="1.2"/>
<text x="150.3" y="183.6" font-family="Liberation Sans, sans-serif" font-size="10" text-anchor="start" style="stroke-width:0.4px">10<tspan font-size="6.20" dy="-3.80">4</tspan></text>
<text x="150.3" y="207.1" font-family="Liberation Sans, sans-serif" font-size="10" text-anchor="start" style="stroke-width:0.4px">10<tspan font-size="6.20" dy="-3.80">3</tspan></text>
<text x="150.3" y="230.1" font-family="Liberation Sans, sans-serif" font-size="10" text-anchor="start" style="stroke-width:0.4px">10<tspan font-size="6.20" dy="-3.80">2</tspan></text>
<text x="150.3" y="255.6" font-family="Liberation Sans, sans-serif" font-size="10" text-anchor="start" style="stroke-width:0.4px">10<tspan font-size="6.20" dy="-3.80">1</tspan></text>
<text x="150.3" y="279.1" font-family="Liberation Sans, sans-serif" font-size="10" text-anchor="start" style="stroke-width:0.4px">10<tspan font-size="6.20" dy="-3.80">0</tspan></text>
<text x="167.5" y="291.5" font-family="Liberation Sans, sans-serif" font-size="10" text-anchor="start" style="stroke-width:0.4px">10<tspan font-size="6.20" dy="-3.80">0</tspan></text>
<text x="193.5" y="291.5" font-family="Liberation Sans, sans-serif" font-size="10" text-anchor="start" style="stroke-width:0.4px">10<tspan font-size="6.20" dy="-3.80">1</tspan></text>
<text x="217" y="291.5" font-family="Liberation Sans, sans-serif" font-size="10" text-anchor="start" style="stroke-width:0.4px">10<tspan font-size="6.20" dy="-3.80">2</tspan></text>
<text x="244.6" y="291.5" font-family="Liberation Sans, sans-serif" font-size="10" text-anchor="start" style="stroke-width:0.4px">10<tspan font-size="6.20" dy="-3.80">3</tspan></text>
<text x="268.5" y="291.5" font-family="Liberation Sans, sans-serif" font-size="10" text-anchor="start" style="stroke-width:0.4px">10<tspan font-size="6.20" dy="-3.80">4</tspan></text>
<text x="175.8" y="196" font-family="Liberation Serif, serif" font-size="11">3.5</text>
<path d="M302.3,226.5 L307.2,227.2 L307.2,244.2 L305.6,246 L305.5,281 L302.3,281 Z" fill="#000"/>
<path d="M305.5,261 L315,260.4 L320.8,259.2 L324.2,257.5 L328.8,256.9 L333.5,255.2 L338.1,255.2 L341,257.5 L343.8,258.7 L348.5,258.7 L350.8,260.4 L351.9,262.7 L352.3,277.1 L354.2,277.5 L356.5,277.9" fill="none" stroke="#000" stroke-width="1.7" stroke-linejoin="round"/>
<path d="M305.5,262.1 L346.5,262.1 C348.3,262.1 349.6,263.5 349.6,265.5 L349.6,277.3 L305.5,277.3 Z" fill="#000"/>
<path d="M321.3,265.6 L330.6,265.6 L326.5,270.6 L329.5,276 L323,276 L325.7,270.6 Z" fill="#fff"/>
<ellipse cx="342.1" cy="272.5" rx="1.2" ry="2.5" fill="#fff"/>
<ellipse cx="311.5" cy="273" rx="1.2" ry="0.9" fill="#fff"/>
<path d="M307,264 L321,263.8 M331,263.8 L345.5,263.8 C346.8,263.8 347.5,265 347.5,266.5 L347.5,276" fill="none" stroke="#fff" stroke-width="0.6" stroke-dasharray="5 1.5"/>
<path d="M333,266.2 L343,266.2 C344.5,266.2 345.2,267.2 345.2,268.5 L345.2,276 M308,266.5 L319,266.3" fill="none" stroke="#fff" stroke-width="0.55" stroke-dasharray="3.5 1.5"/>
<path d="M314,271.5 l1,1 M337,270 l0.8,1.5 M309,275 l1.2,0.3 M317,268.5 l1,0.8" stroke="#fff" stroke-width="0.9"/>
<line x1="303.2" y1="248.6" x2="404.4" y2="248.6" stroke="#1f50d4" stroke-width="1.9"/>
<line x1="327" y1="179.2" x2="327" y2="280.7" stroke="#1f50d4" stroke-width="1.9"/>
<rect x="303.2" y="179.2" width="101.19999999999999" height="101.5" fill="none" stroke="#000" stroke-width="1.7"/>
<line x1="299.7" y1="280.70" x2="303.2" y2="280.70" stroke="#000" stroke-width="1.2"/>
<line x1="300.7" y1="273.06" x2="303.2" y2="273.06" stroke="#000" stroke-width="1.2"/>
<line x1="300.7" y1="268.59" x2="303.2" y2="268.59" stroke="#000" stroke-width="1.2"/>
<line x1="300.7" y1="265.42" x2="303.2" y2="265.42" stroke="#000" stroke-width="1.2"/>
<line x1="300.7" y1="262.96" x2="303.2" y2="262.96" stroke="#000" stroke-width="1.2"/>
<line x1="300.7" y1="260.95" x2="303.2" y2="260.95" stroke="#000" stroke-width="1.2"/>
<line x1="300.7" y1="259.26" x2="303.2" y2="259.26" stroke="#000" stroke-width="1.2"/>
<line x1="300.7" y1="257.78" x2="303.2" y2="257.78" stroke="#000" stroke-width="1.2"/>
<line x1="300.7" y1="256.49" x2="303.2" y2="256.49" stroke="#000" stroke-width="1.2"/>
<line x1="299.7" y1="255.32" x2="303.2" y2="255.32" stroke="#000" stroke-width="1.2"/>
<line x1="300.7" y1="247.69" x2="303.2" y2="247.69" stroke="#000" stroke-width="1.2"/>
<line x1="300.7" y1="243.22" x2="303.2" y2="243.22" stroke="#000" stroke-width="1.2"/>
<line x1="300.7" y1="240.05" x2="303.2" y2="240.05" stroke="#000" stroke-width="1.2"/>
<line x1="300.7" y1="237.59" x2="303.2" y2="237.59" stroke="#000" stroke-width="1.2"/>
<line x1="300.7" y1="235.58" x2="303.2" y2="235.58" stroke="#000" stroke-width="1.2"/>
<line x1="300.7" y1="233.88" x2="303.2" y2="233.88" stroke="#000" stroke-width="1.2"/>
<line x1="300.7" y1="232.41" x2="303.2" y2="232.41" stroke="#000" stroke-width="1.2"/>
<line x1="300.7" y1="231.11" x2="303.2" y2="231.11" stroke="#000" stroke-width="1.2"/>
<line x1="299.7" y1="229.95" x2="303.2" y2="229.95" stroke="#000" stroke-width="1.2"/>
<line x1="300.7" y1="222.31" x2="303.2" y2="222.31" stroke="#000" stroke-width="1.2"/>
<line x1="300.7" y1="217.84" x2="303.2" y2="217.84" stroke="#000" stroke-width="1.2"/>
<line x1="300.7" y1="214.67" x2="303.2" y2="214.67" stroke="#000" stroke-width="1.2"/>
<line x1="300.7" y1="212.21" x2="303.2" y2="212.21" stroke="#000" stroke-width="1.2"/>
<line x1="300.7" y1="210.20" x2="303.2" y2="210.20" stroke="#000" stroke-width="1.2"/>
<line x1="300.7" y1="208.51" x2="303.2" y2="208.51" stroke="#000" stroke-width="1.2"/>
<line x1="300.7" y1="207.03" x2="303.2" y2="207.03" stroke="#000" stroke-width="1.2"/>
<line x1="300.7" y1="205.74" x2="303.2" y2="205.74" stroke="#000" stroke-width="1.2"/>
<line x1="299.7" y1="204.57" x2="303.2" y2="204.57" stroke="#000" stroke-width="1.2"/>
<line x1="300.7" y1="196.94" x2="303.2" y2="196.94" stroke="#000" stroke-width="1.2"/>
<line x1="300.7" y1="192.47" x2="303.2" y2="192.47" stroke="#000" stroke-width="1.2"/>
<line x1="300.7" y1="189.30" x2="303.2" y2="189.30" stroke="#000" stroke-width="1.2"/>
<line x1="300.7" y1="186.84" x2="303.2" y2="186.84" stroke="#000" stroke-width="1.2"/>
<line x1="300.7" y1="184.83" x2="303.2" y2="184.83" stroke="#000" stroke-width="1.2"/>
<line x1="300.7" y1="183.13" x2="303.2" y2="183.13" stroke="#000" stroke-width="1.2"/>
<line x1="300.7" y1="181.66" x2="303.2" y2="181.66" stroke="#000" stroke-width="1.2"/>
<line x1="300.7" y1="180.36" x2="303.2" y2="180.36" stroke="#000" stroke-width="1.2"/>
<line x1="303.20" y1="280.7" x2="303.20" y2="283.9" stroke="#000" stroke-width="1.2"/>
<line x1="310.82" y1="280.7" x2="310.82" y2="282.9" stroke="#000" stroke-width="1.2"/>
<line x1="315.27" y1="280.7" x2="315.27" y2="282.9" stroke="#000" stroke-width="1.2"/>
<line x1="318.43" y1="280.7" x2="318.43" y2="282.9" stroke="#000" stroke-width="1.2"/>
<line x1="320.88" y1="280.7" x2="320.88" y2="282.9" stroke="#000" stroke-width="1.2"/>
<line x1="322.89" y1="280.7" x2="322.89" y2="282.9" stroke="#000" stroke-width="1.2"/>
<line x1="324.58" y1="280.7" x2="324.58" y2="282.9" stroke="#000" stroke-width="1.2"/>
<line x1="326.05" y1="280.7" x2="326.05" y2="282.9" stroke="#000" stroke-width="1.2"/>
<line x1="327.34" y1="280.7" x2="327.34" y2="282.9" stroke="#000" stroke-width="1.2"/>
<line x1="328.50" y1="280.7" x2="328.50" y2="283.9" stroke="#000" stroke-width="1.2"/>
<line x1="336.12" y1="280.7" x2="336.12" y2="282.9" stroke="#000" stroke-width="1.2"/>
<line x1="340.57" y1="280.7" x2="340.57" y2="282.9" stroke="#000" stroke-width="1.2"/>
<line x1="343.73" y1="280.7" x2="343.73" y2="282.9" stroke="#000" stroke-width="1.2"/>
<line x1="346.18" y1="280.7" x2="346.18" y2="282.9" stroke="#000" stroke-width="1.2"/>
<line x1="348.19" y1="280.7" x2="348.19" y2="282.9" stroke="#000" stroke-width="1.2"/>
<line x1="349.88" y1="280.7" x2="349.88" y2="282.9" stroke="#000" stroke-width="1.2"/>
<line x1="351.35" y1="280.7" x2="351.35" y2="282.9" stroke="#000" stroke-width="1.2"/>
<line x1="352.64" y1="280.7" x2="352.64" y2="282.9" stroke="#000" stroke-width="1.2"/>
<line x1="353.80" y1="280.7" x2="353.80" y2="283.9" stroke="#000" stroke-width="1.2"/>
<line x1="361.42" y1="280.7" x2="361.42" y2="282.9" stroke="#000" stroke-width="1.2"/>
<line x1="365.87" y1="280.7" x2="365.87" y2="282.9" stroke="#000" stroke-width="1.2"/>
<line x1="369.03" y1="280.7" x2="369.03" y2="282.9" stroke="#000" stroke-width="1.2"/>
<line x1="371.48" y1="280.7" x2="371.48" y2="282.9" stroke="#000" stroke-width="1.2"/>
<line x1="373.49" y1="280.7" x2="373.49" y2="282.9" stroke="#000" stroke-width="1.2"/>
<line x1="375.18" y1="280.7" x2="375.18" y2="282.9" stroke="#000" stroke-width="1.2"/>
<line x1="376.65" y1="280.7" x2="376.65" y2="282.9" stroke="#000" stroke-width="1.2"/>
<line x1="377.94" y1="280.7" x2="377.94" y2="282.9" stroke="#000" stroke-width="1.2"/>
<line x1="379.10" y1="280.7" x2="379.10" y2="283.9" stroke="#000" stroke-width="1.2"/>
<line x1="386.72" y1="280.7" x2="386.72" y2="282.9" stroke="#000" stroke-width="1.2"/>
<line x1="391.17" y1="280.7" x2="391.17" y2="282.9" stroke="#000" stroke-width="1.2"/>
<line x1="394.33" y1="280.7" x2="394.33" y2="282.9" stroke="#000" stroke-width="1.2"/>
<line x1="396.78" y1="280.7" x2="396.78" y2="282.9" stroke="#000" stroke-width="1.2"/>
<line x1="398.79" y1="280.7" x2="398.79" y2="282.9" stroke="#000" stroke-width="1.2"/>
<line x1="400.48" y1="280.7" x2="400.48" y2="282.9" stroke="#000" stroke-width="1.2"/>
<line x1="401.95" y1="280.7" x2="401.95" y2="282.9" stroke="#000" stroke-width="1.2"/>
<line x1="403.24" y1="280.7" x2="403.24" y2="282.9" stroke="#000" stroke-width="1.2"/>
<text x="284.3" y="183.6" font-family="Liberation Sans, sans-serif" font-size="10" text-anchor="start" style="stroke-width:0.4px">10<tspan font-size="6.20" dy="-3.80">4</tspan></text>
<text x="284.3" y="207.1" font-family="Liberation Sans, sans-serif" font-size="10" text-anchor="start" style="stroke-width:0.4px">10<tspan font-size="6.20" dy="-3.80">3</tspan></text>
<text x="284.3" y="230.1" font-family="Liberation Sans, sans-serif" font-size="10" text-anchor="start" style="stroke-width:0.4px">10<tspan font-size="6.20" dy="-3.80">2</tspan></text>
<text x="284.3" y="255.6" font-family="Liberation Sans, sans-serif" font-size="10" text-anchor="start" style="stroke-width:0.4px">10<tspan font-size="6.20" dy="-3.80">1</tspan></text>
<text x="284.3" y="279.1" font-family="Liberation Sans, sans-serif" font-size="10" text-anchor="start" style="stroke-width:0.4px">10<tspan font-size="6.20" dy="-3.80">0</tspan></text>
<text x="300.7" y="291.5" font-family="Liberation Sans, sans-serif" font-size="10" text-anchor="start" style="stroke-width:0.4px">10<tspan font-size="6.20" dy="-3.80">0</tspan></text>
<text x="326.7" y="291.5" font-family="Liberation Sans, sans-serif" font-size="10" text-anchor="start" style="stroke-width:0.4px">10<tspan font-size="6.20" dy="-3.80">1</tspan></text>
<text x="350.2" y="291.5" font-family="Liberation Sans, sans-serif" font-size="10" text-anchor="start" style="stroke-width:0.4px">10<tspan font-size="6.20" dy="-3.80">2</tspan></text>
<text x="377.79999999999995" y="291.5" font-family="Liberation Sans, sans-serif" font-size="10" text-anchor="start" style="stroke-width:0.4px">10<tspan font-size="6.20" dy="-3.80">3</tspan></text>
<text x="401.7" y="291.5" font-family="Liberation Sans, sans-serif" font-size="10" text-anchor="start" style="stroke-width:0.4px">10<tspan font-size="6.20" dy="-3.80">4</tspan></text>
<text x="310.5" y="196" font-family="Liberation Serif, serif" font-size="11">1.3</text>
<text x="2.4" y="17" font-family="Liberation Sans, sans-serif" font-weight="bold" font-size="25" style="stroke-width:0">A</text>
<text x="0" y="0" font-family="Liberation Sans, sans-serif" font-weight="bold" font-size="25" style="stroke-width:0" transform="translate(2.4,363.6) scale(0.92,1)">B</text>
<line x1="334.1" y1="39.3" x2="334.1" y2="116.9" stroke="#2a2a2a" stroke-width="1.95"/>
<line x1="333.15000000000003" y1="116.2" x2="411.5" y2="116.2" stroke="#111" stroke-width="1.4"/>
<path d="M334.1,30.3 L328.8,40.3 L339.40000000000003,40.3 Z" fill="#000"/>
<path d="M420.5,116.2 L410.5,110.9 L410.5,121.5 Z" fill="#000"/>
<line x1="432.1" y1="390.3" x2="432.1" y2="467.7" stroke="#2a2a2a" stroke-width="1.95"/>
<line x1="431.15000000000003" y1="467" x2="509.5" y2="467" stroke="#111" stroke-width="1.4"/>
<path d="M432.1,381.3 L426.8,391.3 L437.40000000000003,391.3 Z" fill="#000"/>
<path d="M518.5,467 L508.5,461.7 L508.5,472.3 Z" fill="#000"/>
<text x="280" y="80.5" font-family="Liberation Serif, serif" font-size="15.8" letter-spacing="-0.35">NK1.1</text>
<text x="351" y="151.3" font-family="Liberation Serif, serif" font-size="15.8">CD3</text>
<text x="61" y="163.5" font-family="Liberation Serif, serif" font-size="15.8">B6</text>
<text x="184.3" y="163.3" font-family="Liberation Serif, serif" font-size="15.8" letter-spacing="-0.15">B6 + IL-2C</text>
<text x="50" y="319.2" font-family="Liberation Serif, serif" font-size="15.8">IL-15<tspan font-size="9" dy="-6">-/-</tspan></text>
<text x="168.5" y="319.2" font-family="Liberation Serif, serif" font-size="15.8">IL-15<tspan font-size="9" dy="-6">-/-</tspan><tspan dy="6"> + IL-2C</tspan></text>
<text x="303.5" y="319.2" font-family="Liberation Serif, serif" font-size="15.8">IL-15<tspan font-size="9" dy="-6">-/-</tspan><tspan dy="6"> + IL-15</tspan></text>
<text x="398.5" y="412.3" font-family="Liberation Serif, serif" font-size="15.8">%</text>
<text x="398" y="431.2" font-family="Liberation Serif, serif" font-size="15.8">of</text>
<text x="398" y="450" font-family="Liberation Serif, serif" font-size="15.8">max</text>
<text x="449.5" y="492.8" font-family="Liberation Serif, serif" font-size="15.8">CFSE</text>
<line x1="278.5" y1="414.3" x2="299.2" y2="414.3" stroke="#999" stroke-width="3"/>
<line x1="278.5" y1="430.2" x2="299.2" y2="430.2" stroke="#000" stroke-width="3"/>
<line x1="278.5" y1="448.2" x2="288.8" y2="448.2" stroke="#000" stroke-width="3"/>
<line x1="294.6" y1="448.2" x2="304.5" y2="448.2" stroke="#000" stroke-width="3"/>
<text x="316.3" y="418.3" font-family="Liberation Serif, serif" font-size="10.4">B6</text>
<text x="316.3" y="434.3" font-family="Liberation Serif, serif" font-size="10.4">B6 + IL-2C</text>
<text x="316.3" y="451.8" font-family="Liberation Serif, serif" font-size="10.4">IL-15<tspan font-size="6.5" dy="-4">-/-</tspan><tspan dy="4"> + IL-2C</tspan></text>
<defs><pattern id="dots" width="2.6" height="2.6" patternUnits="userSpaceOnUse" patternTransform="rotate(45)"><rect width="2.6" height="2.6" fill="#bababa"/><rect width="1.45" height="1.45" fill="#1a1a1a"/></pattern></defs>
<polygon points="34.5,476 34.5,473.5 68,473 70,471.5 72,469 74,465 75.6,461 78,453 80,443 81.2,434 82.2,424 83.4,405 84.5,392 85.6,384 86.7,380.5 87.8,383 89,388 90,393 90.6,410 91.3,427 92.2,441 93.3,452 94.5,460 96,466 97.5,470 100,472.5 105.6,472.5 105.6,476" fill="url(#dots)"/>
<polyline points="24,475.5 34,475.5 34.5,473.5 44.8,473.5 46,471 47.5,470.5 48.5,471.5 50,469 51.5,469.5 53,468 54.5,467.5 56,463 57.5,458.5 59,456 60.5,455.2 62,457 63.3,456.7 64.5,458 65.6,460 67,455 67.8,452 69.5,448 70.7,446.7 71.5,449 72.2,452 73.3,441 74.5,435 75.6,430 76.5,425 77.3,422 78.2,419.5 78.9,420 79.6,424 80,430 81,436 81.8,437.8 82.5,428 83.3,414 84.4,395 85.3,385 86.2,380 87.5,380 88.5,387 89.5,392 90.3,400 90.8,415 91.5,430 92.2,441 93.3,452 94.5,460 96,466 97.5,470 99,472.5 101,473.5 110,474.5 123.5,475" fill="none" stroke="#000" stroke-width="1.3" stroke-linejoin="round"/>
<path d="M23.7,374 L123.5,374 L123.5,476.6" fill="none" stroke="#333" stroke-width="1.5"/>
<line x1="23.7" y1="373.3" x2="23.7" y2="476.6" stroke="#000" stroke-width="1.7"/>
<line x1="23.7" y1="476.6" x2="124.2" y2="476.6" stroke="#000" stroke-width="1.7"/>
<line x1="20.9" y1="475.10" x2="23.7" y2="475.10" stroke="#000" stroke-width="1.1"/>
<line x1="21.7" y1="470.30" x2="23.7" y2="470.30" stroke="#000" stroke-width="1.1"/>
<line x1="21.7" y1="465.49" x2="23.7" y2="465.49" stroke="#000" stroke-width="1.1"/>
<line x1="21.7" y1="460.69" x2="23.7" y2="460.69" stroke="#000" stroke-width="1.1"/>
<line x1="20.9" y1="455.88" x2="23.7" y2="455.88" stroke="#000" stroke-width="1.1"/>
<line x1="21.7" y1="451.08" x2="23.7" y2="451.08" stroke="#000" stroke-width="1.1"/>
<line x1="21.7" y1="446.27" x2="23.7" y2="446.27" stroke="#000" stroke-width="1.1"/>
<line x1="21.7" y1="441.47" x2="23.7" y2="441.47" stroke="#000" stroke-width="1.1"/>
<line x1="20.9" y1="436.66" x2="23.7" y2="436.66" stroke="#000" stroke-width="1.1"/>
<line x1="21.7" y1="431.86" x2="23.7" y2="431.86" stroke="#000" stroke-width="1.1"/>
<line x1="21.7" y1="427.05" x2="23.7" y2="427.05" stroke="#000" stroke-width="1.1"/>
<line x1="21.7" y1="422.25" x2="23.7" y2="422.25" stroke="#000" stroke-width="1.1"/>
<line x1="20.9" y1="417.44" x2="23.7" y2="417.44" stroke="#000" stroke-width="1.1"/>
<line x1="21.7" y1="412.63" x2="23.7" y2="412.63" stroke="#000" stroke-width="1.1"/>
<line x1="21.7" y1="407.83" x2="23.7" y2="407.83" stroke="#000" stroke-width="1.1"/>
<line x1="21.7" y1="403.02" x2="23.7" y2="403.02" stroke="#000" stroke-width="1.1"/>
<line x1="20.9" y1="398.22" x2="23.7" y2="398.22" stroke="#000" stroke-width="1.1"/>
<line x1="21.7" y1="393.42" x2="23.7" y2="393.42" stroke="#000" stroke-width="1.1"/>
<line x1="21.7" y1="388.61" x2="23.7" y2="388.61" stroke="#000" stroke-width="1.1"/>
<line x1="21.7" y1="383.81" x2="23.7" y2="383.81" stroke="#000" stroke-width="1.1"/>
<line x1="20.9" y1="379.00" x2="23.7" y2="379.00" stroke="#000" stroke-width="1.1"/>
<line x1="23.70" y1="476.6" x2="23.70" y2="479.40000000000003" stroke="#000" stroke-width="1.1"/>
<line x1="31.21" y1="476.6" x2="31.21" y2="478.40000000000003" stroke="#000" stroke-width="1.1"/>
<line x1="35.60" y1="476.6" x2="35.60" y2="478.40000000000003" stroke="#000" stroke-width="1.1"/>
<line x1="38.72" y1="476.6" x2="38.72" y2="478.40000000000003" stroke="#000" stroke-width="1.1"/>
<line x1="41.14" y1="476.6" x2="41.14" y2="478.40000000000003" stroke="#000" stroke-width="1.1"/>
<line x1="43.11" y1="476.6" x2="43.11" y2="478.40000000000003" stroke="#000" stroke-width="1.1"/>
<line x1="44.79" y1="476.6" x2="44.79" y2="478.40000000000003" stroke="#000" stroke-width="1.1"/>
<line x1="46.23" y1="476.6" x2="46.23" y2="478.40000000000003" stroke="#000" stroke-width="1.1"/>
<line x1="47.51" y1="476.6" x2="47.51" y2="478.40000000000003" stroke="#000" stroke-width="1.1"/>
<line x1="48.65" y1="476.6" x2="48.65" y2="479.40000000000003" stroke="#000" stroke-width="1.1"/>
<line x1="56.16" y1="476.6" x2="56.16" y2="478.40000000000003" stroke="#000" stroke-width="1.1"/>
<line x1="60.55" y1="476.6" x2="60.55" y2="478.40000000000003" stroke="#000" stroke-width="1.1"/>
<line x1="63.67" y1="476.6" x2="63.67" y2="478.40000000000003" stroke="#000" stroke-width="1.1"/>
<line x1="66.09" y1="476.6" x2="66.09" y2="478.40000000000003" stroke="#000" stroke-width="1.1"/>
<line x1="68.06" y1="476.6" x2="68.06" y2="478.40000000000003" stroke="#000" stroke-width="1.1"/>
<line x1="69.74" y1="476.6" x2="69.74" y2="478.40000000000003" stroke="#000" stroke-width="1.1"/>
<line x1="71.18" y1="476.6" x2="71.18" y2="478.40000000000003" stroke="#000" stroke-width="1.1"/>
<line x1="72.46" y1="476.6" x2="72.46" y2="478.40000000000003" stroke="#000" stroke-width="1.1"/>
<line x1="73.60" y1="476.6" x2="73.60" y2="479.40000000000003" stroke="#000" stroke-width="1.1"/>
<line x1="81.11" y1="476.6" x2="81.11" y2="478.40000000000003" stroke="#000" stroke-width="1.1"/>
<line x1="85.50" y1="476.6" x2="85.50" y2="478.40000000000003" stroke="#000" stroke-width="1.1"/>
<line x1="88.62" y1="476.6" x2="88.62" y2="478.40000000000003" stroke="#000" stroke-width="1.1"/>
<line x1="91.04" y1="476.6" x2="91.04" y2="478.40000000000003" stroke="#000" stroke-width="1.1"/>
<line x1="93.01" y1="476.6" x2="93.01" y2="478.40000000000003" stroke="#000" stroke-width="1.1"/>
<line x1="94.69" y1="476.6" x2="94.69" y2="478.40000000000003" stroke="#000" stroke-width="1.1"/>
<line x1="96.13" y1="476.6" x2="96.13" y2="478.40000000000003" stroke="#000" stroke-width="1.1"/>
<line x1="97.41" y1="476.6" x2="97.41" y2="478.40000000000003" stroke="#000" stroke-width="1.1"/>
<line x1="98.55" y1="476.6" x2="98.55" y2="479.40000000000003" stroke="#000" stroke-width="1.1"/>
<line x1="106.06" y1="476.6" x2="106.06" y2="478.40000000000003" stroke="#000" stroke-width="1.1"/>
<line x1="110.45" y1="476.6" x2="110.45" y2="478.40000000000003" stroke="#000" stroke-width="1.1"/>
<line x1="113.57" y1="476.6" x2="113.57" y2="478.40000000000003" stroke="#000" stroke-width="1.1"/>
<line x1="115.99" y1="476.6" x2="115.99" y2="478.40000000000003" stroke="#000" stroke-width="1.1"/>
<line x1="117.96" y1="476.6" x2="117.96" y2="478.40000000000003" stroke="#000" stroke-width="1.1"/>
<line x1="119.64" y1="476.6" x2="119.64" y2="478.40000000000003" stroke="#000" stroke-width="1.1"/>
<line x1="121.08" y1="476.6" x2="121.08" y2="478.40000000000003" stroke="#000" stroke-width="1.1"/>
<line x1="122.36" y1="476.6" x2="122.36" y2="478.40000000000003" stroke="#000" stroke-width="1.1"/>
<text x="10.9" y="378.0" font-family="Liberation Sans, sans-serif" font-size="9.6" text-anchor="middle" style="stroke-width:0.2px">100</text>
<text x="10.9" y="397.3" font-family="Liberation Sans, sans-serif" font-size="9.6" text-anchor="middle" style="stroke-width:0.2px">80</text>
<text x="10.9" y="416.5" font-family="Liberation Sans, sans-serif" font-size="9.6" text-anchor="middle" style="stroke-width:0.2px">60</text>
<text x="10.9" y="435.7" font-family="Liberation Sans, sans-serif" font-size="9.6" text-anchor="middle" style="stroke-width:0.2px">40</text>
<text x="10.9" y="455.7" font-family="Liberation Sans, sans-serif" font-size="9.6" text-anchor="middle" style="stroke-width:0.2px">20</text>
<text x="10.9" y="474.8" font-family="Liberation Sans, sans-serif" font-size="9.6" text-anchor="middle" style="stroke-width:0.2px">0</text>
<text x="20.8" y="491.4" font-family="Liberation Sans, sans-serif" font-size="9.8" text-anchor="start" style="stroke-width:0.4px">10<tspan font-size="6.08" dy="-3.72">0</tspan></text>
<text x="46.3" y="491.4" font-family="Liberation Sans, sans-serif" font-size="9.8" text-anchor="start" style="stroke-width:0.4px">10<tspan font-size="6.08" dy="-3.72">1</tspan></text>
<text x="70.2" y="491.4" font-family="Liberation Sans, sans-serif" font-size="9.8" text-anchor="start" style="stroke-width:0.4px">10<tspan font-size="6.08" dy="-3.72">2</tspan></text>
<text x="98.8" y="491.4" font-family="Liberation Sans, sans-serif" font-size="9.8" text-anchor="start" style="stroke-width:0.4px">10<tspan font-size="6.08" dy="-3.72">3</tspan></text>
<text x="122.5" y="491.4" font-family="Liberation Sans, sans-serif" font-size="9.8" text-anchor="start" style="stroke-width:0.4px">10<tspan font-size="6.08" dy="-3.72">4</tspan></text>
<polygon points="193,476 193,473.5 211.6,473 214.6,469 217,465 219,461 220.5,456 222,447 223.5,436.8 224.5,420 225.7,405 226.8,395 227.5,388 228.8,383 230.2,380 231.2,384 232.2,390 232.8,398 233.3,410 233.5,420 234.3,435 235.3,447 236.3,458 237.3,465 238.5,470 240,472.8 248,473.2 248,476" fill="url(#dots)"/>
<polyline points="219,461 220.5,456 222,447 223.5,436.8 224.5,420 225.7,405 226.8,395 227.5,388 228.8,383 230.2,380 231.2,384 232.2,390 232.8,398 233.3,410 233.5,420 234.3,435 235.3,447 236.3,458 237.3,465 238.5,470" fill="none" stroke="#000" stroke-width="1.1" stroke-dasharray="4 1.5" stroke-linejoin="round"/>
<polyline points="165.5,475.2 170,475.2" fill="none" stroke="#000" stroke-width="1.6" stroke-linejoin="round" stroke-linecap="butt"/>
<polyline points="172.4,472.3 174.7,469.8 177,472.9" fill="none" stroke="#000" stroke-width="1.6" stroke-linejoin="round" stroke-linecap="butt"/>
<polyline points="181.6,475 181.6,473.4 186.8,473.4 186.8,475" fill="none" stroke="#000" stroke-width="1.6" stroke-linejoin="round" stroke-linecap="butt"/>
<polyline points="189.1,471.1 193.1,467.1 193.7,465.4" fill="none" stroke="#000" stroke-width="1.6" stroke-linejoin="round" stroke-linecap="butt"/>
<polyline points="194.9,460.8 196.6,458.5" fill="none" stroke="#000" stroke-width="1.6" stroke-linejoin="round" stroke-linecap="butt"/>
<polyline points="198.3,456.7 200,455 203.5,455.6" fill="none" stroke="#000" stroke-width="1.6" stroke-linejoin="round" stroke-linecap="butt"/>
<polyline points="205.3,451.5 208.1,445.8" fill="none" stroke="#000" stroke-width="1.6" stroke-linejoin="round" stroke-linecap="butt"/>
<polyline points="210.4,441.7 211.5,437.5" fill="none" stroke="#000" stroke-width="1.6" stroke-linejoin="round" stroke-linecap="butt"/>
<polyline points="213.5,436.5 215.5,434" fill="none" stroke="#000" stroke-width="1.6" stroke-linejoin="round" stroke-linecap="butt"/>
<polyline points="217.4,445.2 218.5,441.2" fill="none" stroke="#000" stroke-width="1.6" stroke-linejoin="round" stroke-linecap="butt"/>
<polyline points="218.5,431 219.5,426" fill="none" stroke="#000" stroke-width="1.6" stroke-linejoin="round" stroke-linecap="butt"/>
<polyline points="220.8,420 222,416" fill="none" stroke="#000" stroke-width="1.6" stroke-linejoin="round" stroke-linecap="butt"/>
<polyline points="223,412 224.3,406" fill="none" stroke="#000" stroke-width="1.6" stroke-linejoin="round" stroke-linecap="butt"/>
<polyline points="225.2,401 225.5,397" fill="none" stroke="#000" stroke-width="1.6" stroke-linejoin="round" stroke-linecap="butt"/>
<polyline points="226.8,396 227.2,387.5" fill="none" stroke="#000" stroke-width="1.6" stroke-linejoin="round" stroke-linecap="butt"/>
<polyline points="228.3,384 230.2,380 231.8,386" fill="none" stroke="#000" stroke-width="1.6" stroke-linejoin="round" stroke-linecap="butt"/>
<polyline points="240,474.5 264.7,475.2" fill="none" stroke="#000" stroke-width="1.4" stroke-dasharray="5 2"/>
<path d="M165,374 L264.7,374 L264.7,476.8" fill="none" stroke="#333" stroke-width="1.5"/>
<line x1="165" y1="373.3" x2="165" y2="476.8" stroke="#000" stroke-width="1.7"/>
<line x1="165" y1="476.8" x2="265.4" y2="476.8" stroke="#000" stroke-width="1.7"/>
<line x1="162.2" y1="475.30" x2="165" y2="475.30" stroke="#000" stroke-width="1.1"/>
<line x1="163" y1="470.49" x2="165" y2="470.49" stroke="#000" stroke-width="1.1"/>
<line x1="163" y1="465.67" x2="165" y2="465.67" stroke="#000" stroke-width="1.1"/>
<line x1="163" y1="460.86" x2="165" y2="460.86" stroke="#000" stroke-width="1.1"/>
<line x1="162.2" y1="456.04" x2="165" y2="456.04" stroke="#000" stroke-width="1.1"/>
<line x1="163" y1="451.23" x2="165" y2="451.23" stroke="#000" stroke-width="1.1"/>
<line x1="163" y1="446.41" x2="165" y2="446.41" stroke="#000" stroke-width="1.1"/>
<line x1="163" y1="441.60" x2="165" y2="441.60" stroke="#000" stroke-width="1.1"/>
<line x1="162.2" y1="436.78" x2="165" y2="436.78" stroke="#000" stroke-width="1.1"/>
<line x1="163" y1="431.97" x2="165" y2="431.97" stroke="#000" stroke-width="1.1"/>
<line x1="163" y1="427.15" x2="165" y2="427.15" stroke="#000" stroke-width="1.1"/>
<line x1="163" y1="422.33" x2="165" y2="422.33" stroke="#000" stroke-width="1.1"/>
<line x1="162.2" y1="417.52" x2="165" y2="417.52" stroke="#000" stroke-width="1.1"/>
<line x1="163" y1="412.70" x2="165" y2="412.70" stroke="#000" stroke-width="1.1"/>
<line x1="163" y1="407.89" x2="165" y2="407.89" stroke="#000" stroke-width="1.1"/>
<line x1="163" y1="403.07" x2="165" y2="403.07" stroke="#000" stroke-width="1.1"/>
<line x1="162.2" y1="398.26" x2="165" y2="398.26" stroke="#000" stroke-width="1.1"/>
<line x1="163" y1="393.44" x2="165" y2="393.44" stroke="#000" stroke-width="1.1"/>
<line x1="163" y1="388.63" x2="165" y2="388.63" stroke="#000" stroke-width="1.1"/>
<line x1="163" y1="383.81" x2="165" y2="383.81" stroke="#000" stroke-width="1.1"/>
<line x1="162.2" y1="379.00" x2="165" y2="379.00" stroke="#000" stroke-width="1.1"/>
<line x1="165.00" y1="476.8" x2="165.00" y2="479.6" stroke="#000" stroke-width="1.1"/>
<line x1="172.50" y1="476.8" x2="172.50" y2="478.6" stroke="#000" stroke-width="1.1"/>
<line x1="176.89" y1="476.8" x2="176.89" y2="478.6" stroke="#000" stroke-width="1.1"/>
<line x1="180.01" y1="476.8" x2="180.01" y2="478.6" stroke="#000" stroke-width="1.1"/>
<line x1="182.42" y1="476.8" x2="182.42" y2="478.6" stroke="#000" stroke-width="1.1"/>
<line x1="184.40" y1="476.8" x2="184.40" y2="478.6" stroke="#000" stroke-width="1.1"/>
<line x1="186.06" y1="476.8" x2="186.06" y2="478.6" stroke="#000" stroke-width="1.1"/>
<line x1="187.51" y1="476.8" x2="187.51" y2="478.6" stroke="#000" stroke-width="1.1"/>
<line x1="188.78" y1="476.8" x2="188.78" y2="478.6" stroke="#000" stroke-width="1.1"/>
<line x1="189.93" y1="476.8" x2="189.93" y2="479.6" stroke="#000" stroke-width="1.1"/>
<line x1="197.43" y1="476.8" x2="197.43" y2="478.6" stroke="#000" stroke-width="1.1"/>
<line x1="201.82" y1="476.8" x2="201.82" y2="478.6" stroke="#000" stroke-width="1.1"/>
<line x1="204.93" y1="476.8" x2="204.93" y2="478.6" stroke="#000" stroke-width="1.1"/>
<line x1="207.35" y1="476.8" x2="207.35" y2="478.6" stroke="#000" stroke-width="1.1"/>
<line x1="209.32" y1="476.8" x2="209.32" y2="478.6" stroke="#000" stroke-width="1.1"/>
<line x1="210.99" y1="476.8" x2="210.99" y2="478.6" stroke="#000" stroke-width="1.1"/>
<line x1="212.43" y1="476.8" x2="212.43" y2="478.6" stroke="#000" stroke-width="1.1"/>
<line x1="213.71" y1="476.8" x2="213.71" y2="478.6" stroke="#000" stroke-width="1.1"/>
<line x1="214.85" y1="476.8" x2="214.85" y2="479.6" stroke="#000" stroke-width="1.1"/>
<line x1="222.35" y1="476.8" x2="222.35" y2="478.6" stroke="#000" stroke-width="1.1"/>
<line x1="226.74" y1="476.8" x2="226.74" y2="478.6" stroke="#000" stroke-width="1.1"/>
<line x1="229.86" y1="476.8" x2="229.86" y2="478.6" stroke="#000" stroke-width="1.1"/>
<line x1="232.27" y1="476.8" x2="232.27" y2="478.6" stroke="#000" stroke-width="1.1"/>
<line x1="234.25" y1="476.8" x2="234.25" y2="478.6" stroke="#000" stroke-width="1.1"/>
<line x1="235.91" y1="476.8" x2="235.91" y2="478.6" stroke="#000" stroke-width="1.1"/>
<line x1="237.36" y1="476.8" x2="237.36" y2="478.6" stroke="#000" stroke-width="1.1"/>
<line x1="238.63" y1="476.8" x2="238.63" y2="478.6" stroke="#000" stroke-width="1.1"/>
<line x1="239.77" y1="476.8" x2="239.77" y2="479.6" stroke="#000" stroke-width="1.1"/>
<line x1="247.28" y1="476.8" x2="247.28" y2="478.6" stroke="#000" stroke-width="1.1"/>
<line x1="251.67" y1="476.8" x2="251.67" y2="478.6" stroke="#000" stroke-width="1.1"/>
<line x1="254.78" y1="476.8" x2="254.78" y2="478.6" stroke="#000" stroke-width="1.1"/>
<line x1="257.20" y1="476.8" x2="257.20" y2="478.6" stroke="#000" stroke-width="1.1"/>
<line x1="259.17" y1="476.8" x2="259.17" y2="478.6" stroke="#000" stroke-width="1.1"/>
<line x1="260.84" y1="476.8" x2="260.84" y2="478.6" stroke="#000" stroke-width="1.1"/>
<line x1="262.28" y1="476.8" x2="262.28" y2="478.6" stroke="#000" stroke-width="1.1"/>
<line x1="263.56" y1="476.8" x2="263.56" y2="478.6" stroke="#000" stroke-width="1.1"/>
<text x="152.1" y="378.0" font-family="Liberation Sans, sans-serif" font-size="9.6" text-anchor="middle" style="stroke-width:0.2px">100</text>
<text x="152.1" y="397.3" font-family="Liberation Sans, sans-serif" font-size="9.6" text-anchor="middle" style="stroke-width:0.2px">80</text>
<text x="152.1" y="416.5" font-family="Liberation Sans, sans-serif" font-size="9.6" text-anchor="middle" style="stroke-width:0.2px">60</text>
<text x="152.1" y="435.7" font-family="Liberation Sans, sans-serif" font-size="9.6" text-anchor="middle" style="stroke-width:0.2px">40</text>
<text x="152.1" y="455.7" font-family="Liberation Sans, sans-serif" font-size="9.6" text-anchor="middle" style="stroke-width:0.2px">20</text>
<text x="152.1" y="474.8" font-family="Liberation Sans, sans-serif" font-size="9.6" text-anchor="middle" style="stroke-width:0.2px">0</text>
<text x="162.0" y="491.4" font-family="Liberation Sans, sans-serif" font-size="9.8" text-anchor="start" style="stroke-width:0.4px">10<tspan font-size="6.08" dy="-3.72">0</tspan></text>
<text x="187.5" y="491.4" font-family="Liberation Sans, sans-serif" font-size="9.8" text-anchor="start" style="stroke-width:0.4px">10<tspan font-size="6.08" dy="-3.72">1</tspan></text>
<text x="211.39999999999998" y="491.4" font-family="Liberation Sans, sans-serif" font-size="9.8" text-anchor="start" style="stroke-width:0.4px">10<tspan font-size="6.08" dy="-3.72">2</tspan></text>
<text x="240.0" y="491.4" font-family="Liberation Sans, sans-serif" font-size="9.8" text-anchor="start" style="stroke-width:0.4px">10<tspan font-size="6.08" dy="-3.72">3</tspan></text>
<text x="263.7" y="491.4" font-family="Liberation Sans, sans-serif" font-size="9.8" text-anchor="start" style="stroke-width:0.4px">10<tspan font-size="6.08" dy="-3.72">4</tspan></text>
</svg></body></html>
